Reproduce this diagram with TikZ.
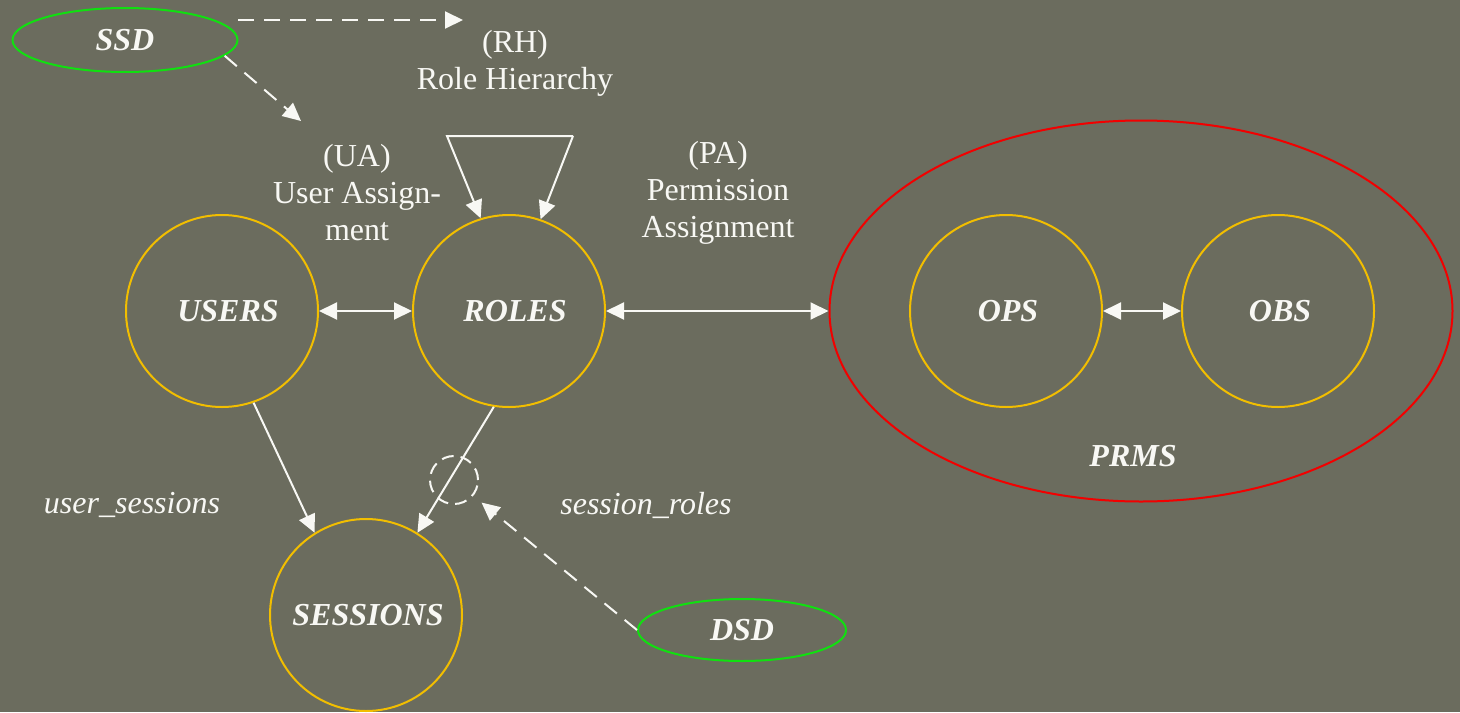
\documentclass[tikz,border=0pt]{standalone}
\usepackage{fontspec}
\setmainfont{Liberation Serif}
\usetikzlibrary{arrows.meta,shapes.geometric}
\definecolor{bgolive}{HTML}{6B6C5E}
\definecolor{setring}{HTML}{F2BE00}
\definecolor{prmsred}{HTML}{F20000}
\definecolor{sodgreen}{HTML}{10E010}
\definecolor{ink}{HTML}{F8F8F4}

\begin{document}
\begin{tikzpicture}[x=0.5pt,y=-0.5pt,
  tip/.tip={Triangle[length=9pt,width=8.5pt]},
  setnode/.style={circle,draw=setring,line width=1pt,minimum size=96pt,inner sep=0pt,
    text=ink,font=\fontsize{16}{18}\selectfont\bfseries\itshape},
  sodnode/.style={ellipse,draw=sodgreen,line width=1pt,inner sep=0pt,
    text=ink,font=\fontsize{16}{18}\selectfont\bfseries\itshape},
  prmsnode/.style={ellipse,draw=prmsred,line width=1pt,minimum width=311.5pt,minimum height=190.5pt,inner sep=0pt},
  lbl/.style={text=ink,align=center,font=\fontsize{16}{18.5}\selectfont},
  ilbl/.style={text=ink,font=\fontsize{16}{18}\selectfont\itshape},
  biglbl/.style={text=ink,font=\fontsize{16}{18}\selectfont\bfseries\itshape},
  link/.style={draw=ink,line width=1pt,-tip},
  bilink/.style={draw=ink,line width=1pt,tip-tip},
  dlink/.style={draw=ink,line width=1pt,-tip,dash pattern=on 8pt off 5pt},
]
\fill[bgolive] (0,0) rectangle (1460,712);
\useasboundingbox (0,0) rectangle (1460,712);

% sets (italic caps sit a little right of centre)
\node[setnode] (users) at (222,311) {\hspace*{6pt}USERS};
\node[setnode] (roles) at (509,311) {\hspace*{6pt}ROLES};
\node[setnode] (sessions) at (366,615) {\hspace*{2pt}SESSIONS};
\node[prmsnode] (prms) at (1141,311) {};
\node[setnode] (ops) at (1006,311) {\hspace*{2pt}OPS};
\node[setnode] (obs) at (1278,311) {\hspace*{2pt}OBS};
\node[biglbl] (prmslbl) at (1133,456) {PRMS};

% separation-of-duty constraints
\node[sodnode,minimum width=112.5pt,minimum height=32pt] (ssd) at (125,40) {SSD};
\node[sodnode,minimum width=104pt,minimum height=31pt] (dsd) at (742,630) {DSD};
\node[circle,draw=ink,line width=1pt,dash pattern=on 6pt off 3.5pt,minimum size=24pt,inner sep=0pt] (dsdmark) at (454,480) {};

% labels
\node[lbl] (rh) at (515,63) {(RH)\\Role Hierarchy};
\node[lbl] (ua) at (357,193) {(UA)\\User Assign-\\ment};
\node[lbl] (pa) at (718,193) {(PA)\\Permission\\Assignment};
\node[ilbl] (usess) at (132,505) {user\_sessions};
\node[ilbl] (sroles) at (646,505) {session\_roles};

% assignments
\draw[bilink] (users.east) -- (roles.west);
\draw[bilink] (roles.east) -- (prms.west);
\draw[bilink] (ops.east) -- (obs.west);

% role hierarchy loop
\coordinate (rhleft) at (447,136);
\coordinate (rhright) at (573,136);
\draw[link] (rhright) -- (rhleft) -- (roles.107.5);
\draw[link] (rhright) -- (roles.71);

% sessions
\draw[link] (users.-71) -- (sessions.122);
\draw[link] (roles.-99) -- (sessions.58.5);

% constraint pointers
\coordinate (rhfrom) at (238,20);
\coordinate (rhto) at (463,20);
\coordinate (uato) at (301,121);
\draw[dlink] (rhfrom) -- (rhto);
\draw[dlink] (ssd.-9.5) -- (uato);
\draw[dlink,shorten >=5.3pt] (dsd.west) -- (dsdmark);
\end{tikzpicture}
\end{document}
